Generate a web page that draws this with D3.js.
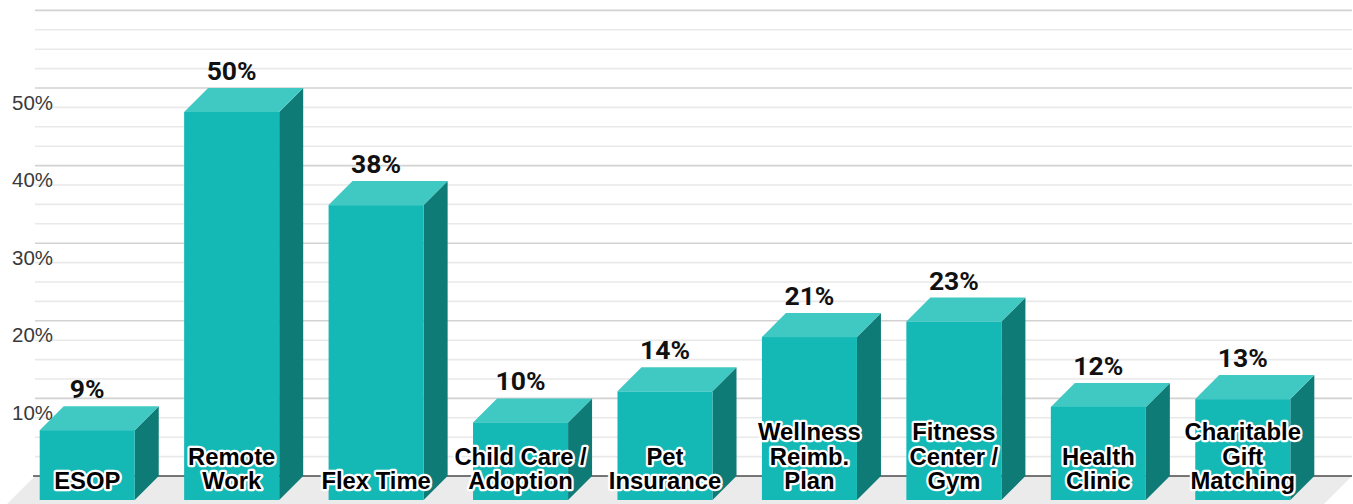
<!DOCTYPE html>
<html>
<head>
<meta charset="utf-8">
<script src="https://cdn.jsdelivr.net/npm/d3@7"></script>
<style>
  html, body { margin: 0; padding: 0; background: #fff; }
  svg { display: block; }
</style>
</head>
<body>
<svg id="chart" width="1353" height="504"></svg>
<script>
const categories = [
  ["ESOP"],
  ["Remote", "Work"],
  ["Flex Time"],
  ["Child Care /", "Adoption"],
  ["Pet", "Insurance"],
  ["Wellness", "Reimb.", "Plan"],
  ["Fitness", "Center /", "Gym"],
  ["Health", "Clinic"],
  ["Charitable", "Gift", "Matching"]
];
const values = [9, 50, 38, 10, 14, 21, 23, 12, 13];
const tickValues = [10, 20, 30, 40, 50];
const tickLabels = ["10%", "20%", "30%", "40%", "50%"];

const W = 1353, H = 504;
const depth = 24;
const svg = d3.select("#chart");

const x = d3.scaleBand()
  .domain(d3.range(categories.length))
  .range([15, 1315])
  .paddingInner(0.342)
  .paddingOuter(0.171);

const yF = d3.scaleLinear().domain([0, 60]).range([500, 34.4]);
const yB = v => yF(v) - depth;

const backLeft = 35, backRight = 1352;

// floor
svg.append("polygon")
  .attr("points", [[backLeft, yB(0)], [backRight, yB(0)], [backRight - 28, H], [backLeft - 28, H]].join(" "))
  .attr("fill", "#ebebeb");

// gridlines on back wall
const gridVals = d3.range(2.5, 60.01, 2.5);
svg.append("g").selectAll("line")
  .data(gridVals)
  .join("line")
  .attr("x1", backLeft).attr("x2", backRight)
  .attr("y1", d => yB(d)).attr("y2", d => yB(d))
  .attr("stroke", d => (d % 10 === 0) ? "#d2d2d2" : "#e9e9e9")
  .attr("stroke-width", 1.6);

// baseline
svg.append("line")
  .attr("x1", backLeft - 2).attr("x2", backRight)
  .attr("y1", yB(0)).attr("y2", yB(0))
  .attr("stroke", "#4a4a4a").attr("stroke-width", 1.5);

// y tick labels
svg.append("g").selectAll("text")
  .data(tickValues)
  .join("text")
  .attr("x", 12)
  .attr("y", d => yB(d) + 14)
  .attr("dominant-baseline", "central")
  .attr("font-family", "Liberation Sans, Arial, sans-serif")
  .attr("font-size", 20.5)
  .attr("fill", "#3a3a3a")
  .text((d, i) => tickLabels[i]);

// bars
const bw = x.bandwidth();
const bars = svg.append("g").selectAll("g")
  .data(values)
  .join("g");

bars.append("polygon") // side
  .attr("points", (d, i) => {
    const x0 = x(i) + bw, yt = yF(d), yb = yF(0);
    return [[x0, yt], [x0 + depth, yt - depth], [x0 + depth, yb - depth], [x0, yb]].join(" ");
  })
  .attr("fill", "#0f7b77");

bars.append("polygon") // top
  .attr("points", (d, i) => {
    const x0 = x(i), yt = yF(d);
    return [[x0, yt], [x0 + depth, yt - depth], [x0 + bw + depth, yt - depth], [x0 + bw, yt]].join(" ");
  })
  .attr("fill", "#40c8c3");

bars.append("rect") // front
  .attr("x", (d, i) => x(i))
  .attr("y", d => yF(d))
  .attr("width", bw)
  .attr("height", d => yF(0) - yF(d))
  .attr("fill", "#14b9b5");

// value labels
svg.append("g").selectAll("text")
  .data(values)
  .join("text")
  .attr("x", (d, i) => x(i) + bw / 2)
  .attr("y", d => yB(d) - 8)
  .attr("text-anchor", "middle")
  .attr("font-family", "Roboto, sans-serif")
  .attr("font-weight", 700)
  .attr("font-size", 26.5)
  .attr("fill", "#111")
  .text(d => d + "%");

// category labels inside bars with white halo
const lh = 24.5;
const catG = svg.append("g")
  .attr("font-family", "Liberation Sans, Arial, sans-serif")
  .attr("font-weight", 700)
  .attr("font-size", 23.8)
  .attr("text-anchor", "middle");

categories.forEach((lines, i) => {
  const cx = x(i) + bw / 2;
  const n = lines.length;
  lines.forEach((ln, j) => {
    const yy = 489 - (n - 1 - j) * lh;
    catG.append("text")
      .attr("x", cx).attr("y", yy)
      .attr("fill", "none")
      .attr("stroke", "#fff")
      .attr("stroke-width", 4.5)
      .attr("stroke-linejoin", "round")
      .text(ln);
    catG.append("text")
      .attr("x", cx).attr("y", yy)
      .attr("fill", "#000")
      .text(ln);
  });
});
</script>
</body>
</html>
